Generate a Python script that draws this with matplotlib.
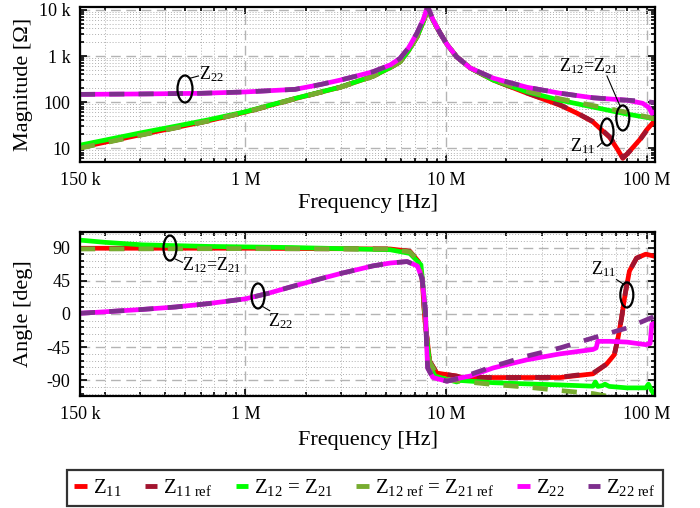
import matplotlib
matplotlib.use("Agg")
import matplotlib.pyplot as plt
from matplotlib.patches import Ellipse
from matplotlib.lines import Line2D
from matplotlib.ticker import FixedLocator, NullFormatter

plt.rcParams['font.family'] = ['Liberation Serif', 'DejaVu Serif']
plt.rcParams['mathtext.fontset'] = 'custom'
plt.rcParams['mathtext.rm'] = 'Liberation Serif'
plt.rcParams['mathtext.it'] = 'Liberation Serif:italic'
plt.rcParams['mathtext.bf'] = 'Liberation Serif:bold'

# ---------------- data ----------------
# Magnitude [Ohm]
f_z11_mag = [150e3, 300e3, 450e3, 650e3, 1e6, 1.77e6, 2.97e6, 4.33e6, 5.27e6, 5.9e6, 6.5e6, 7.17e6,
             7.7e6, 8.1e6, 8.6e6, 9.34e6, 10.1e6, 11.3e6, 13.2e6, 17.2e6, 25.3e6, 36.9e6, 44.9e6,
             54e6, 65.5e6, 72e6, 76e6, 80e6, 92e6, 100e6, 110e6]
z11_mag = [10.3, 19.5, 28, 39, 60.5, 119, 210, 365, 560, 750, 1300, 2620,
           5500, 10500, 6000, 3160, 1800, 960, 550, 300, 156, 86, 57.6,
           37, 17, 9, 6, 7.5, 15, 25, 40]
f_z11r_mag = f_z11_mag[:-1]
z11r_mag = [10.2, 19.3, 27.8, 38.8, 60, 118, 210, 365, 560, 750, 1300, 2620,
            5500, 10500, 6000, 3160, 1800, 960, 550, 300, 158, 88, 58,
            38, 17.5, 9.5, 6.2, 7.5, 14.5, 24]

f_z12_mag = [150e3, 300e3, 450e3, 650e3, 1e6, 1.77e6, 2.97e6, 4.33e6, 5.27e6, 5.9e6, 6.5e6, 7.17e6,
             7.7e6, 8.1e6, 8.6e6, 9.34e6, 10.1e6, 11.3e6, 13.2e6, 17.2e6, 25.3e6, 36.9e6,
             54e6, 79.6e6, 95.6e6, 110e6]
z12_mag = [11.6, 21.4, 30, 41, 61.5, 120, 211, 367, 560, 751, 1300, 2630,
           5500, 10500, 6000, 3160, 1800, 960, 550, 300, 167, 110,
           78, 55, 48, 43]
f_z12r_mag = f_z12_mag
z12r_mag = [10, 19, 27.5, 38.5, 60, 118, 208, 362, 555, 745, 1300, 2620,
            5500, 10500, 6000, 3160, 1800, 960, 555, 305, 175, 118,
            84, 60, 50, 44]

f_z22_mag = [150e3, 300e3, 600e3, 1e6, 1.77e6, 2.36e6, 2.97e6, 3.6e6, 4.33e6, 5.27e6, 5.9e6, 6.5e6,
             7.17e6, 7.7e6, 8.1e6, 8.6e6, 9.34e6, 10.1e6, 11.3e6, 13.2e6, 17.2e6, 25.3e6, 36.9e6,
             54e6, 79.6e6, 95.6e6, 103e6, 106e6, 110e6]
z22_mag = [147, 150, 155, 166, 189, 240, 300, 370, 457, 640, 890, 1500,
           3160, 6200, 12000, 6200, 3160, 1800, 960, 550, 331, 210, 156,
           124, 110, 94, 75, 57, 62]
f_z22r_mag = f_z22_mag[:-5] + [79.6e6, 95.6e6, 110e6]
z22r_mag = z22_mag[:-5] + [110, 105, 97]

# Angle [deg]
f_z11_ang = [150e3, 1e6, 5.27e6, 6.6e6, 7.3e6, 7.6e6, 7.85e6, 8.3e6, 9.0e6, 11.3e6, 11.8e6, 17e6,
             25e6, 37e6, 54e6, 63e6, 69e6, 72e6, 75e6, 78e6, 82e6, 89e6, 99e6, 110e6]
z11_ang = [89, 89, 88, 85, 71, 48, -9, -64, -80, -84, -86, -86,
           -86, -86, -81, -68, -55, -32, -5, 26, 58, 75.7, 81, 78]
f_z11r_ang = f_z11_ang[:-1]
z11r_ang = [88.5, 88.5, 88, 84.5, 71, 48, -9, -64, -80, -84, -85.5, -86,
            -86, -85.5, -80, -68, -55, -32, -5, 26, 58, 75.5, 81]

f_z12_ang = [150e3, 200e3, 307e3, 650e3, 1.7e6, 5.27e6, 6.6e6, 7.5e6, 7.8e6, 8.0e6, 8.3e6, 8.8e6,
             11.3e6, 11.8e6, 17.2e6, 25.3e6, 36.9e6, 54e6, 55.5e6, 57e6, 60e6, 62e6, 65e6,
             79.6e6, 99e6, 102e6, 106e6, 110e6]
z12_ang = [100, 97, 93.6, 91.5, 90, 87, 82, 66.6, 20, -30, -70, -84,
           -92, -90, -93, -94.6, -96, -97.7, -92, -98, -97, -95, -98,
           -100, -100, -95, -104, -110]
f_z12r_ang = [150e3, 1e6, 5.27e6, 6.6e6, 7.3e6, 7.6e6, 8.0e6, 8.3e6, 9.0e6, 10.1e6, 11.8e6,
              17.2e6, 25.3e6, 36.9e6, 54e6, 63e6, 75e6]
z12r_ang = [88, 88.5, 88, 84, 72, 48, -30, -65, -82, -89, -91,
            -95.5, -99, -103.6, -107.7, -111, -116]

f_z22_ang = [150e3, 200e3, 300e3, 450e3, 650e3, 1e6, 1.3e6, 1.7e6, 2.44e6, 3.0e6, 3.6e6, 4.3e6,
             5.27e6, 6.4e6, 7.2e6, 7.6e6, 7.9e6, 8.0e6, 8.1e6, 8.6e6, 10.1e6, 11.8e6, 13.2e6,
             17.2e6, 25.3e6, 36.9e6, 54e6, 56e6, 57e6, 65.5e6, 79.6e6, 99e6, 104e6, 106e6, 110e6]
z22_ang = [1, 3, 6, 9.5, 14, 20.5, 28, 37, 48.6, 55, 60, 65,
           69, 71, 65, 48, 4, -41, -73, -86, -91, -86.5, -84,
           -73, -62, -54, -48, -46, -37, -37, -38, -41.5, -40, -14, -12]
f_z22r_ang = f_z22_ang[:22] + [17.2e6, 25.3e6, 36.9e6, 54e6, 79.6e6, 110e6]
z22r_ang = z22_ang[:22] + [-71, -57, -46, -32.4, -19, -3]

# ticks
x_ticks = [150e3, 1e6, 10e6, 100e6]
x_ticklabels = ['150 k', '1 M', '10 M', '100 M']
mag_ticks = [10, 100, 1000, 10000]
mag_ticklabels = ['10', '100', '1 k', '10 k']
ang_ticks = [-90, -45, 0, 45, 90]
ang_ticklabels = ['-90', '-45', '0', '45', '90']

# ---------------- styles ----------------
C_Z11 = '#ff0000'
C_Z11R = '#a2142f'
C_Z12 = '#00ff00'
C_Z12R = '#77ac30'
C_Z22 = '#ff00ff'
C_Z22R = '#7e2f8e'
LW = 3.4
DASH = (0, (3.2, 3.0))

fig = plt.figure(figsize=(7.0, 5.08), dpi=100)
W, H = 700.0, 508.0
ax1 = fig.add_axes([80 / W, 1 - 162 / H, 575 / W, 155 / H])
ax2 = fig.add_axes([80 / W, 1 - 396 / H, 575 / W, 164 / H])


def style_axis(ax):
    ax.set_xscale('log')
    ax.set_xlim(150e3, 110e6)
    ax.xaxis.set_major_locator(FixedLocator(x_ticks))
    ax.set_xticklabels(x_ticklabels)
    minors = []
    for d in [1e5, 1e6, 1e7]:
        for k in range(2, 10):
            v = k * d
            if 150e3 < v < 110e6:
                minors.append(v)
    ax.xaxis.set_minor_locator(FixedLocator(minors))
    ax.xaxis.set_minor_formatter(NullFormatter())
    ax.tick_params(which='both', direction='in', top=True, right=True, labelsize=13,
                   width=1.2, colors='black')
    ax.tick_params(which='major', length=5, pad=7)
    ax.tick_params(which='minor', length=3)
    ax.grid(True, which='major', color='#b4b4b4', linestyle=(0, (7, 4)), linewidth=1.0)
    ax.grid(True, which='minor', color='#b0b0b0', linestyle=(0, (1, 2)), linewidth=0.7)
    for s in ax.spines.values():
        s.set_linewidth(1.6)
    ax.set_xlabel('Frequency [Hz]', fontsize=16)


def plot_set(ax, data):
    for f, v, c, ls in data:
        ax.plot(f, v, color=c, linewidth=LW, linestyle=ls, solid_capstyle='butt',
                dash_capstyle='butt')


# ---------------- magnitude ----------------
style_axis(ax1)
ax1.set_yscale('log')
ax1.set_ylim(5, 11600)
ax1.yaxis.set_major_locator(FixedLocator(mag_ticks))
ax1.set_yticklabels(mag_ticklabels)
ymin = []
for d in [1, 10, 100, 1000, 10000]:
    for k in range(2, 10):
        v = k * d
        if 5 < v < 11600:
            ymin.append(v)
ax1.yaxis.set_minor_locator(FixedLocator(ymin))
ax1.yaxis.set_minor_formatter(NullFormatter())
plot_set(ax1, [
    (f_z11_mag, z11_mag, C_Z11, '-'),
    (f_z11r_mag, z11r_mag, C_Z11R, DASH),
    (f_z12_mag, z12_mag, C_Z12, '-'),
    (f_z12r_mag, z12r_mag, C_Z12R, DASH),
    (f_z22_mag, z22_mag, C_Z22, '-'),
    (f_z22r_mag, z22r_mag, C_Z22R, DASH),
])
ax1.set_ylabel('Magnitude [Ω]', fontsize=16)
ax1.yaxis.set_label_coords(-0.082, 0.5)
ax1.xaxis.set_label_coords(0.5, -0.205)

# ---------------- angle ----------------
style_axis(ax2)
ax2.set_ylim(-111, 111)
ax2.yaxis.set_major_locator(FixedLocator(ang_ticks))
ax2.set_yticklabels(ang_ticklabels)
ax2.yaxis.set_minor_locator(FixedLocator([v for v in range(-108, 109, 9) if v % 45 != 0]))
ax2.yaxis.set_minor_formatter(NullFormatter())
plot_set(ax2, [
    (f_z11_ang, z11_ang, C_Z11, '-'),
    (f_z11r_ang, z11r_ang, C_Z11R, DASH),
    (f_z12_ang, z12_ang, C_Z12, '-'),
    (f_z12r_ang, z12r_ang, C_Z12R, DASH),
    (f_z22_ang, z22_ang, C_Z22, '-'),
    (f_z22r_ang, z22r_ang, C_Z22R, DASH),
])
ax2.set_ylabel('Angle [deg]', fontsize=16)
ax2.yaxis.set_label_coords(-0.082, 0.5)
ax2.xaxis.set_label_coords(0.5, -0.215)


# ---------------- annotations ----------------
def note(ax, ell_xy, ell_wh, text, text_xy, line_from, line_to, axh):
    w = ell_wh[0] / 575.0
    h = ell_wh[1] / axh
    ax.add_patch(Ellipse(ell_xy, w, h, transform=ax.transAxes, fill=False,
                         edgecolor='black', linewidth=1.6, zorder=10))
    ax.plot([line_from[0], line_to[0]], [line_from[1], line_to[1]], color='black',
            linewidth=0.8, transform=ax.transAxes, zorder=10)
    ax.text(text_xy[0], text_xy[1], text, transform=ax.transAxes, fontsize=13,
            ha='left', va='center', zorder=11)


note(ax1, (0.1826, 0.471), (15, 27), r'$\mathrm{Z}_{22}$', (0.207, 0.565),
     (0.191, 0.54), (0.206, 0.555), 155.0)
note(ax1, (0.944, 0.284), (13, 25), r'$\mathrm{Z}_{12}$=$\mathrm{Z}_{21}$', (0.833, 0.62),
     (0.9165, 0.555), (0.939, 0.362), 155.0)
note(ax1, (0.9165, 0.1935), (13, 27), r'$\mathrm{Z}_{11}$', (0.853, 0.105),
     (0.900, 0.098), (0.908, 0.125), 155.0)

note(ax2, (0.1565, 0.902), (13, 25), r'$\mathrm{Z}_{12}$=$\mathrm{Z}_{21}$', (0.177, 0.80),
     (0.166, 0.835), (0.178, 0.815), 164.0)
note(ax2, (0.3096, 0.61), (13, 25), r'$\mathrm{Z}_{22}$', (0.327, 0.455),
     (0.318, 0.545), (0.33, 0.52), 164.0)
note(ax2, (0.951, 0.616), (13, 25), r'$\mathrm{Z}_{11}$', (0.889, 0.775),
     (0.933, 0.71), (0.946, 0.68), 164.0)

# ---------------- legend ----------------
labels = [r'$\mathrm{Z}_{11}$', r'$\mathrm{Z}_{11\ \mathrm{ref}}$',
          r'$\mathrm{Z}_{12}$ = $\mathrm{Z}_{21}$',
          r'$\mathrm{Z}_{12\ \mathrm{ref}}$ = $\mathrm{Z}_{21\ \mathrm{ref}}$',
          r'$\mathrm{Z}_{22}$', r'$\mathrm{Z}_{22\ \mathrm{ref}}$']
colors = [C_Z11, C_Z11R, C_Z12, C_Z12R, C_Z22, C_Z22R]
handles = [Line2D([0], [0], color=c, linewidth=3.5, solid_capstyle='butt') for c in colors]
leg = fig.legend(handles, labels, loc='center', bbox_to_anchor=(365 / W, 1 - 488 / H),
                 ncol=6, fontsize=15, frameon=True, fancybox=False, edgecolor='black',
                 handlelength=0.6, handletextpad=0.3, columnspacing=1.1, borderpad=0.35,
                 borderaxespad=0.0)
leg.get_frame().set_linewidth(1.6)

fig.savefig('out.png', dpi=100)
